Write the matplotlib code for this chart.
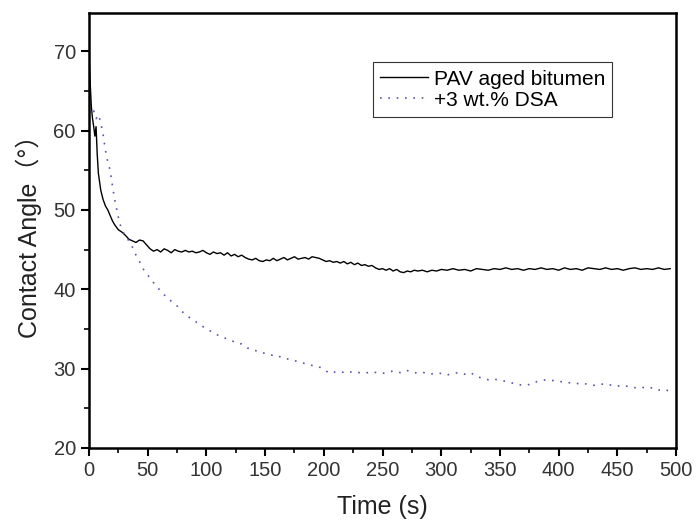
import matplotlib
matplotlib.use('Agg')
import matplotlib.pyplot as plt
from matplotlib.ticker import MultipleLocator

plt.rcParams['font.family'] = ['Liberation Sans', 'Noto Sans CJK SC', 'DejaVu Sans']

# PAV aged bitumen (solid black)
t_pav = [0, 1, 2, 3, 4, 5, 6, 7, 8, 10, 12, 14, 16, 18, 20, 22, 25, 28, 31, 34,
         37, 40, 43, 46, 49, 52, 55, 58, 61, 64, 67, 70, 73, 76, 79, 82, 85, 88, 91, 94,
         97, 100, 103, 106, 109, 112, 115, 118, 121, 124, 127, 130, 133, 136, 139, 142, 145, 148, 151, 154,
         157, 160, 163, 166, 169, 172, 175, 178, 181, 184, 187, 190, 193, 196, 199, 202, 205, 208, 211, 214,
         217, 220, 223, 226, 229, 232, 235, 238, 241, 244, 247, 250, 253, 256, 259, 262, 265, 268, 271, 274,
         277, 280, 284, 288, 292, 296, 300, 305, 310, 315, 320, 325, 330, 335, 340, 345, 350, 355, 360, 365,
         370, 375, 380, 385, 390, 395, 400, 405, 410, 415, 420, 425, 430, 435, 440, 445, 450, 455, 460, 465,
         470, 475, 480, 485, 490, 495]
ca_pav = [69.5, 66.0, 63.0, 61.5, 60.5, 59.3, 60.5, 57.0, 54.6, 52.5, 51.3, 50.5, 50.0, 49.3, 48.6, 48.1, 47.5, 47.2, 46.8, 46.3,
          46.1, 45.9, 46.2, 46.1, 45.6, 45.1, 44.8, 45.0, 44.7, 45.1, 44.9, 44.6, 45.0, 44.8, 44.7, 44.9, 44.7, 44.8, 44.6, 44.7,
          44.9, 44.6, 44.4, 44.7, 44.5, 44.6, 44.3, 44.6, 44.2, 44.4, 44.1, 44.3, 44.0, 43.8, 43.7, 43.9, 43.6, 43.5, 43.7, 43.6,
          43.9, 43.6, 43.8, 44.0, 43.7, 43.9, 44.1, 43.8, 43.9, 44.0, 43.8, 44.1, 44.0, 43.9, 43.7, 43.5, 43.6, 43.4, 43.5, 43.3,
          43.5, 43.2, 43.4, 43.1, 43.3, 43.0, 43.1, 42.9, 43.0, 42.7, 42.5, 42.6, 42.4, 42.6, 42.3, 42.5, 42.2, 42.1, 42.3, 42.2,
          42.4, 42.3, 42.4, 42.2, 42.4, 42.3, 42.5, 42.4, 42.6, 42.4, 42.5, 42.3, 42.6, 42.5, 42.4, 42.6, 42.5, 42.7, 42.5, 42.6,
          42.4, 42.6, 42.5, 42.7, 42.5, 42.6, 42.4, 42.7, 42.5, 42.6, 42.4, 42.7, 42.6, 42.5, 42.7, 42.5, 42.6, 42.4, 42.6, 42.7,
          42.5, 42.6, 42.5, 42.7, 42.5, 42.6]

# +3 wt.% DSA (blue dotted)
t_dsa = [0, 2, 4, 6, 8, 10, 12, 14, 16, 18, 20, 22, 24, 26, 28, 31, 34, 37, 40, 43,
         46, 50, 54, 58, 62, 66, 70, 75, 80, 85, 90, 95, 100, 105, 110, 115, 120, 125, 130, 135,
         140, 145, 150, 155, 160, 165, 170, 175, 180, 185, 190, 195, 200, 205, 210, 215, 220, 225, 230, 235,
         240, 245, 250, 255, 260, 265, 270, 275, 280, 285, 290, 295, 300, 305, 310, 315, 320, 325, 330, 335,
         340, 345, 350, 355, 360, 365, 370, 375, 380, 385, 390, 395, 400, 405, 410, 415, 420, 425, 430, 435,
         440, 445, 450, 455, 460, 465, 470, 475, 480, 485, 490, 495]
ca_dsa = [63.5, 62.0, 62.5, 61.5, 62.0, 61.0, 59.5, 57.5, 56.0, 55.0, 53.0, 51.2, 49.8, 48.4, 47.5, 46.7, 46.1, 45.3, 44.3, 43.5,
          42.6, 41.8, 41.0, 40.3, 39.6, 39.0, 38.5, 37.9, 37.1, 36.5, 36.0, 35.5, 35.0, 34.6, 34.2, 33.9, 33.6, 33.3, 33.1, 32.6,
          32.3, 32.2, 31.9, 31.7, 31.7, 31.3, 31.2, 31.0, 30.8, 30.6, 30.4, 30.3, 29.9, 29.4, 29.6, 29.5, 29.7, 29.5, 29.5, 29.4,
          29.6, 29.5, 29.4, 29.6, 29.7, 29.5, 29.8, 29.6, 29.4, 29.5, 29.3, 29.4, 29.4, 29.2, 29.4, 29.5, 29.3, 29.5, 29.0, 28.8,
          28.6, 28.7, 28.5, 28.4, 28.2, 28.0, 27.9, 28.0, 28.3, 28.5, 28.6, 28.5, 28.4, 28.3, 28.2, 28.1, 28.2, 28.0, 27.9, 28.0,
          28.1, 27.9, 27.8, 27.9, 27.7, 27.6, 27.7, 27.5, 27.6, 27.3, 27.4, 27.1]

fig = plt.figure(figsize=(6.97, 5.25), dpi=100)
ax = fig.add_axes([0.1277, 0.1467, 0.8423, 0.8283])

ax.plot(t_pav, ca_pav, color='black', linewidth=1.0, label='PAV aged bitumen')
ax.plot(t_dsa, ca_dsa, color='#5555b0', linewidth=1.2, linestyle=(0, (1, 4)), label='+3 wt.% DSA')

ax.set_xlim(0, 500)
ax.set_ylim(20, 74.8)
ax.xaxis.set_major_locator(MultipleLocator(50))
ax.xaxis.set_minor_locator(MultipleLocator(25))
ax.yaxis.set_major_locator(MultipleLocator(10))
ax.yaxis.set_minor_locator(MultipleLocator(5))
ax.tick_params(which='major', direction='out', length=6, width=1.5, labelsize=14.5, labelcolor='#333333')
ax.tick_params(which='minor', direction='out', length=3.5, width=1.2)
ax.tick_params(top=False, right=False, which='both')
for s in ax.spines.values():
    s.set_linewidth(1.8)

ax.set_xlabel('Time (s)', fontsize=18, color='#222222', labelpad=11)
ax.set_ylabel('Contact Angle（°）', fontsize=18, color='#222222', labelpad=8)

leg = ax.legend(loc='upper left', bbox_to_anchor=(0.484, 0.887), fontsize=15, frameon=True,
                fancybox=False, edgecolor='black', handlelength=2.3, borderpad=0.35,
                labelspacing=0.1, handletextpad=0.25, borderaxespad=0)
leg.get_frame().set_linewidth(0.8)

plt.savefig('out.png', dpi=100)
